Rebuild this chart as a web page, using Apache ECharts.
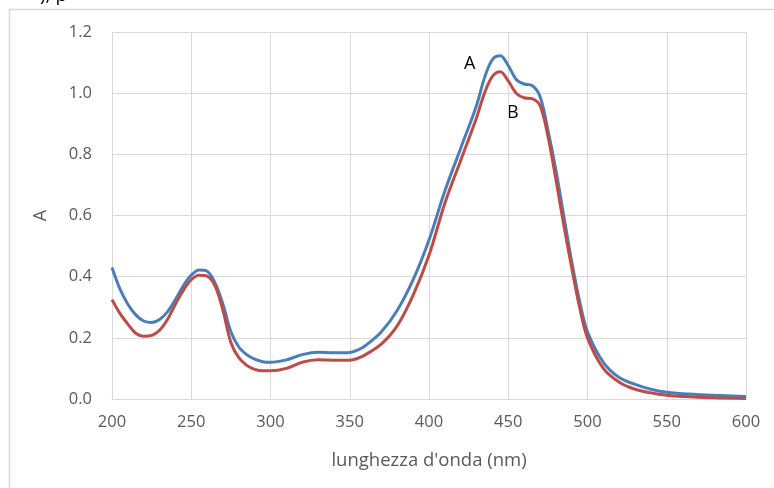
<!DOCTYPE html>
<html>
<head>
<meta charset="utf-8">
<script src="https://cdn.jsdelivr.net/npm/echarts@6/dist/echarts.min.js"></script>
<style>
  html, body { margin: 0; padding: 0; background: #fff; }
  #chart { width: 774px; height: 488px; }
</style>
</head>
<body>
<div id="chart"></div>
<script>
// wavelength (nm)
const wavelengths = [200, 205, 210, 215, 220, 225, 230, 235, 240, 245, 250, 255, 260, 265, 270, 275, 280, 285, 290, 295,
  300, 310, 320, 330, 340, 350, 355, 360, 370, 380, 390, 400, 410, 420, 430, 435, 440, 445, 450, 455, 460,
  465, 470, 475, 480, 485, 490, 495, 500, 510, 520, 530, 540, 550, 560, 580, 600]

// absorbance, sample A (blue)
const seriesA = [0.43, 0.36, 0.31, 0.275, 0.255, 0.25, 0.26, 0.285, 0.325, 0.37, 0.405, 0.422, 0.418, 0.38, 0.31, 0.22, 0.17, 0.145, 0.13, 0.122,
  0.12, 0.128, 0.145, 0.153, 0.151, 0.152, 0.16, 0.175, 0.22, 0.29, 0.39, 0.52, 0.68, 0.82, 0.96, 1.05, 1.11, 1.122, 1.09, 1.045, 1.03,
  1.025, 0.99, 0.88, 0.75, 0.6, 0.45, 0.32, 0.22, 0.12, 0.07, 0.048, 0.032, 0.022, 0.017, 0.012, 0.008]

// absorbance, sample B (red)
const seriesB = [0.325, 0.28, 0.245, 0.215, 0.205, 0.208, 0.225, 0.26, 0.31, 0.355, 0.39, 0.405, 0.402, 0.37, 0.29, 0.185, 0.135, 0.11, 0.097, 0.092,
  0.092, 0.1, 0.12, 0.128, 0.127, 0.127, 0.133, 0.145, 0.18, 0.24, 0.34, 0.47, 0.64, 0.78, 0.92, 1.0, 1.055, 1.07, 1.04, 1.0, 0.985,
  0.982, 0.96, 0.86, 0.72, 0.57, 0.43, 0.30, 0.20, 0.10, 0.055, 0.032, 0.02, 0.012, 0.008, 0.004, 0.002]

const xTicks = [200, 250, 300, 350, 400, 450, 500, 550, 600]
const yTicks = [0, 0.2, 0.4, 0.6, 0.8, 1.0, 1.2]

const font = 'Open Sans, Liberation Sans, sans-serif'
const chart = echarts.init(document.getElementById('chart'))

chart.setOption({
  animation: false,
  grid: { left: 112, right: 28, top: 32, bottom: 89 },
  xAxis: {
    type: 'value',
    min: xTicks[0],
    max: xTicks[xTicks.length - 1],
    interval: 50,
    name: "lunghezza d'onda (nm)",
    nameLocation: 'middle',
    nameGap: 52,
    nameTextStyle: { color: '#595959', fontSize: 18.5, fontFamily: font },
    axisLine: { lineStyle: { color: '#d9d9d9', width: 1 } },
    axisTick: { show: false },
    axisLabel: { color: '#595959', fontSize: 16.5, fontFamily: font, margin: 15 },
    splitLine: { show: true, lineStyle: { color: '#d9d9d9', width: 1 } }
  },
  yAxis: {
    type: 'value',
    min: yTicks[0],
    max: yTicks[yTicks.length - 1],
    interval: 0.2,
    name: 'A',
    nameLocation: 'middle',
    nameGap: 62,
    nameRotate: 90,
    nameTextStyle: { color: '#595959', fontSize: 18, fontFamily: font },
    axisLine: { show: false },
    axisTick: { show: false },
    axisLabel: {
      color: '#595959', fontSize: 16.5, fontFamily: font, margin: 20,
      formatter: v => v.toFixed(1)
    },
    splitLine: { show: true, lineStyle: { color: '#d9d9d9', width: 1 } }
  },
  graphic: [
    { type: 'rect', shape: { x: 9.5, y: 9.5, width: 800, height: 520 },
      style: { fill: 'none', stroke: '#d9d9d9', lineWidth: 1.5 }, silent: true },
    { type: 'text', left: 40, top: -14, style: { text: '), p', fill: '#000', fontSize: 19, fontFamily: font } },
    { type: 'text', left: 464, top: 55, style: { text: 'A', fill: '#000', fontSize: 18, fontFamily: font } },
    { type: 'text', left: 507, top: 104, style: { text: 'B', fill: '#000', fontSize: 18, fontFamily: font } }
  ],
  series: [
    {
      name: 'A',
      type: 'line',
      smooth: 0.35,
      symbol: 'none',
      lineStyle: { color: '#4a7ebb', width: 3 },
      data: wavelengths.map((w, i) => [w, seriesA[i]])
    },
    {
      name: 'B',
      type: 'line',
      smooth: 0.35,
      symbol: 'none',
      lineStyle: { color: '#be4b48', width: 3 },
      data: wavelengths.map((w, i) => [w, seriesB[i]])
    }
  ]
})
</script>
</body>
</html>
